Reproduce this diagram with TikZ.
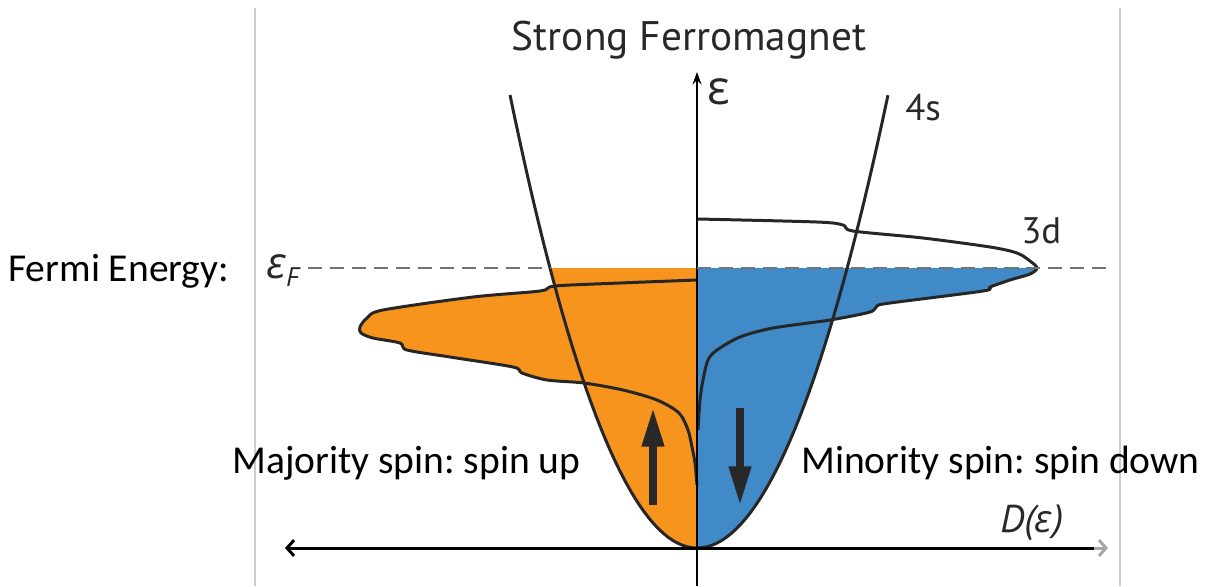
\documentclass[tikz,border=0pt]{standalone}
\usepackage{fontspec}
\setmainfont{Carlito}
\newfontfamily\figfont{PT Sans}
\newfontfamily\grkfont{Open Sans}
\usepackage{xcolor}
\usepackage{tikz}
\usetikzlibrary{arrows.meta}
\frenchspacing

\definecolor{majorange}{RGB}{247,148,30}
\definecolor{minblue}{RGB}{64,138,200}
\definecolor{inkgray}{RGB}{40,40,40}
\definecolor{framegray}{RGB}{205,205,205}

\begin{document}
\begin{tikzpicture}[
  x=0.02cm, y=-0.02cm,
  lbl/.style={font=\fontsize{22.5}{27}\selectfont, inner sep=0pt},
  figlbl/.style={font=\figfont\fontsize{21}{25}\selectfont, text=inkgray, inner sep=0pt},
  curve/.style={line width=1.7pt, color=black!85, line join=round},
  spinarr/.style={line width=4pt, color=inkgray, -{Triangle[length=22pt,width=12pt]}},
  fermiline/.style={line width=1.1pt, color=black!55, dash pattern=on 8pt off 4.5pt}
]
\useasboundingbox (0,0) rectangle (1221,586);

% edges of the pasted figure
\draw[framegray, line width=0.6pt] (255,8) -- (255,586);
\draw[framegray, line width=0.6pt] (1120,8) -- (1120,586);

% occupied states
\fill[majorange] (697,268) -- (550,268) -- (555,286)
  -- plot[smooth] coordinates {(555,286) (540,291) (473,297) (383,310) (367,318) (360,327)
     (361,333) (373,338) (400,343) (407,350) (450,357) (513,367) (522,373) (547,380) (584,383)}
  -- plot[domain=0.6035:0, samples=30] ({697-187*\x},{548-453*\x*\x}) -- cycle;
\fill[minblue] (697,268) -- (1037,268)
  -- plot[smooth] coordinates {(1037,268) (1030,274) (1010,280) (990,287) (983,291) (890,303)
     (877,306) (870,312) (832,320)}
  -- plot[domain=0.7094:0, samples=30] ({697+191*\x},{548-453*\x*\x}) -- cycle;

% 4s bands
\draw[curve] plot[domain=1:0, samples=40] ({697-187*\x},{548-453*\x*\x});
\draw[curve] plot[domain=0:1, samples=40] ({697+191*\x},{548-453*\x*\x});

% 3d bands
\draw[curve] plot[smooth] coordinates {(697,280) (620,283) (555,286) (540,291) (473,297)
  (383,310) (367,318) (360,327) (361,333) (373,338) (400,343) (407,350) (450,357) (513,367)
  (522,373) (547,380) (584,383) (623,390) (657,400) (679,413) (688,430) (692,447) (695,463)
  (697,485)};
\draw[curve] plot[smooth] coordinates {(698,219) (817,222) (843,225) (853,231) (923,238)
  (990,247) (1017,253) (1030,261) (1037,268) (1030,274) (1010,280) (990,287) (983,291)
  (890,303) (877,306) (870,312) (830,320) (773,328) (740,337) (717,350) (708,360) (703,380)
  (700,400) (698,430)};

% axes
\coordinate (ebot) at (697,586);
\coordinate (etop) at (697,72);
\coordinate (dleft) at (285,548);
\coordinate (dmid) at (1094,548);
\coordinate (dright) at (1108,548);
\draw[line width=1.2pt, -{Stealth[length=7pt,width=5pt]}] (ebot) -- (etop);
\draw[line width=1.7pt, {Straight Barb[length=4pt,width=9pt]}-] (dleft) -- (dmid);
\draw[line width=1.7pt, black!35, -{Straight Barb[length=4pt,width=9pt]}] (dmid) -- (dright);

% Fermi level
\coordinate (fl1) at (308,268);
\coordinate (fl2) at (550,268);
\coordinate (fl3) at (697,268);
\coordinate (fl4) at (1110,268);
\draw[fermiline] (fl1) -- (fl2);
\draw[fermiline] (fl3) -- (fl4);

% spins
\coordinate (up1) at (653,505);
\coordinate (up2) at (653,408);
\coordinate (dn1) at (740,408);
\coordinate (dn2) at (740,505);
\draw[spinarr] (up1) -- (up2);
\draw[spinarr] (dn1) -- (dn2);

% labels
\node[figlbl, anchor=base, font=\figfont\fontsize{23.5}{27}\selectfont] (title) at (689,50) {Strong Ferromagnet};
\node[figlbl, anchor=base west, font=\grkfont\fontsize{27}{30}\selectfont] (eps) at (707,104) {ε};
\node[figlbl, anchor=base west] (s4) at (905,120) {4s};
\node[figlbl, anchor=base west] (d3) at (1021,243) {3d};
\node[figlbl, anchor=base west, font=\figfont\itshape\fontsize{22}{25}\selectfont] (dos) at (1000,532)
  {D(\grkfont\itshape ε)};
\node[figlbl, anchor=base west, font=\grkfont\itshape\fontsize{25}{28}\selectfont] (ef) at (266,278)
  {ε\raisebox{-5pt}{\fontsize{15}{17}\selectfont F}};
\node[lbl, anchor=base west] (fermi) at (8,281) {Fermi Energy:};
\node[lbl, anchor=base west] (major) at (232,473) {Majority spin: spin up};
\node[lbl, anchor=base west] (minor) at (801,473) {Minority spin: spin down};
\end{tikzpicture}
\end{document}
